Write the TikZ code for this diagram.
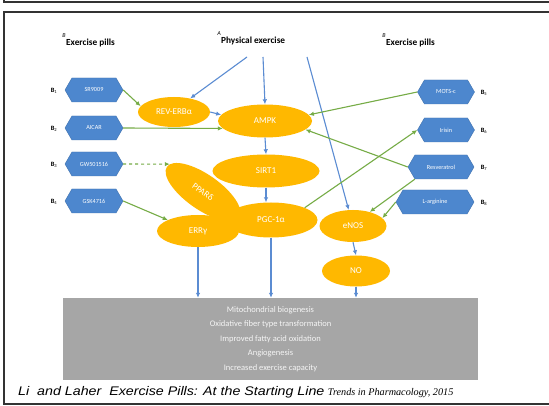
\documentclass[tikz,border=0pt]{standalone}
\usepackage{graphicx}
\usepackage{fontspec}
\setmainfont{Carlito}
\newfontfamily\capsans{Liberation Sans}
\newfontfamily\capserif{Liberation Serif}
\usetikzlibrary{shapes.symbols,shapes.geometric,arrows.meta}
\definecolor{ellcol}{RGB}{255,184,0}
\definecolor{hexblue}{RGB}{77,135,206}
\definecolor{arrblue}{RGB}{91,140,210}
\definecolor{arrgreen}{RGB}{118,172,70}
\definecolor{boxgray}{RGB}{166,166,166}
\begin{document}
\begin{tikzpicture}[x=1pt,y=-1pt,
  ov/.style={ellipse, fill=ellcol, text=white, font=\fontsize{9}{10}\selectfont, inner sep=0pt},
  hx/.style={signal, signal to=east and west, signal pointer angle=120, fill=hexblue, draw=hexblue!85!black, line width=0.4pt, text=white, font=\fontsize{6.2}{7}\selectfont, minimum height=24pt, inner sep=1pt},
  bl/.style={arrblue, line width=1.1pt, -{Latex[length=5pt,width=4.5pt]}},
  gr/.style={arrgreen, line width=1.1pt, -{Latex[length=5pt,width=4.5pt]}},
  blab/.style={font=\fontsize{6.5}{7}\selectfont, inner sep=0pt},
  hdr/.style={anchor=west, font=\bfseries\fontsize{9.3}{10}\selectfont, inner sep=0pt},
  supl/.style={font=\itshape\fontsize{6}{6}\selectfont, inner sep=0pt},
]
\useasboundingbox (0,0) rectangle (549,406);
\fill[white] (0,0) rectangle (549,406);
% frames
\draw[line width=1.8pt, black!80] (4,-5) -- (4,2) -- (555,2);
\draw[line width=1.8pt, black!80] (4,12) rectangle (555,404);

% headers
\node[hdr] (hl) at (66,43) {Exercise pills};
\node[supl] (hlB) at (64,36) {B};
\node[hdr] (hc) at (221,41) {Physical exercise};
\node[supl] (hcA) at (219,34) {A};
\node[hdr] (hr) at (386,43) {Exercise pills};
\node[supl] (hrB) at (384,36) {B};
\coordinate (pe1) at (247,57);
\coordinate (pe2) at (263,57);
\coordinate (pe3) at (307,57);

% ellipses
\path
  (271,220) node[ov, minimum width=93pt, minimum height=35pt] (pgc) {PGC-1α}
  (203,192) node[ov, minimum width=88pt, minimum height=35pt, rotate=-35] (ppar) {PPARδ}
  (198,231) node[ov, minimum width=82pt, minimum height=32pt] (errg) {ERRγ}
  (174,112) node[ov, minimum width=72pt, minimum height=30pt] (rev) {REV-ERBα}
  (265,121) node[ov, minimum width=94pt, minimum height=33pt] (ampk) {AMPK}
  (266,171) node[ov, minimum width=107pt, minimum height=33pt] (sirt) {SIRT1}
  (353,226) node[ov, minimum width=67pt, minimum height=32pt] (enos) {eNOS}
  (356,271) node[ov, minimum width=68pt, minimum height=31pt] (no) {NO};

% left hexagons
\node[hx, minimum width=58pt] (l1) at (94,90) {SR9009};
\node[hx, minimum width=58pt] (l2) at (94,128) {AICAR};
\node[hx, minimum width=58pt] (l3) at (94,164) {GW501516};
\node[hx, minimum width=58pt] (l4) at (94,201) {GSK4716};
\node[blab] (bl1) at (54,91) {\textbf{B}\textsubscript{1}};
\node[blab] (bl2) at (54,129) {\textbf{B}\textsubscript{2}};
\node[blab] (bl3) at (54,165) {\textbf{B}\textsubscript{3}};
\node[blab] (bl4) at (54,202) {\textbf{B}\textsubscript{4}};

% right hexagons
\node[hx, minimum width=57pt] (r1) at (446,92) {MOTS-c};
\node[hx, minimum width=57pt] (r2) at (446,130) {Irisin};
\node[hx, minimum width=66pt] (r3) at (441,167) {Resveratrol};
\node[hx, minimum width=78pt] (r4) at (435,202) {L-arginine};
\node[blab] (br1) at (484,93) {\textbf{B}\textsubscript{5}};
\node[blab] (br2) at (484,131) {\textbf{B}\textsubscript{6}};
\node[blab] (br3) at (484,168) {\textbf{B}\textsubscript{7}};
\node[blab] (br4) at (484,203) {\textbf{B}\textsubscript{8}};

% outcome box
\node[fill=boxgray, minimum width=415pt, minimum height=82pt, inner sep=0pt, align=center,
      text=white!92!gray, font=\fontsize{8.5}{14.5}\selectfont] (box) at (270.5,339)
 {Mitochondrial biogenesis\\Oxidative fiber type transformation\\Improved fatty acid oxidation\\Angiogenesis\\Increased exercise capacity};

% blue arrows
\draw[bl] (pe1) -- (rev.40);
\draw[bl] (pe2) -- (ampk.north);
\draw[bl] (pe3) -- (enos.105);
\draw[bl] (rev.east) -- (ampk.172);
\draw[bl] (ampk.south) -- (sirt.north);
\draw[bl] (sirt.south) -- (sirt.south |- pgc.north);
\draw[bl] (enos.south) -- (no.north);
\draw[bl] (errg.south) -- (errg.south |- box.north);
\draw[bl] (pgc.south) -- (pgc.south |- box.north);
\draw[bl] (no.south) -- (no.south |- box.north);

% green arrows
\draw[gr] (l1.east) -- (rev.170);
\draw[gr] (l2.east) -- (ampk.190);
\draw[gr, dashed] (l3.east) -- (ppar.175);
\draw[gr] (l4.east) -- (errg.160);
\draw[gr] (r1.west) -- (ampk.8);
\draw[gr] (r3.west) -- (ampk.-12);
\draw[gr] (pgc.20) -- (r2.west);
\draw[gr] (r3.south west) -- (enos.40);
\draw[gr] (r4.west) -- (enos.15);

% caption
\node[anchor=west, inner sep=0pt] (cap) at (18,392)
 {\capsans\itshape\fontsize{12.5}{14}\selectfont\scalebox{1.14}[1]{Li\ \ and Laher\ \ Exercise Pills: At the Starting Line} {\capserif\itshape\fontsize{10.2}{14}\selectfont Trends in Pharmacology, 2015}};
\end{tikzpicture}
\end{document}
